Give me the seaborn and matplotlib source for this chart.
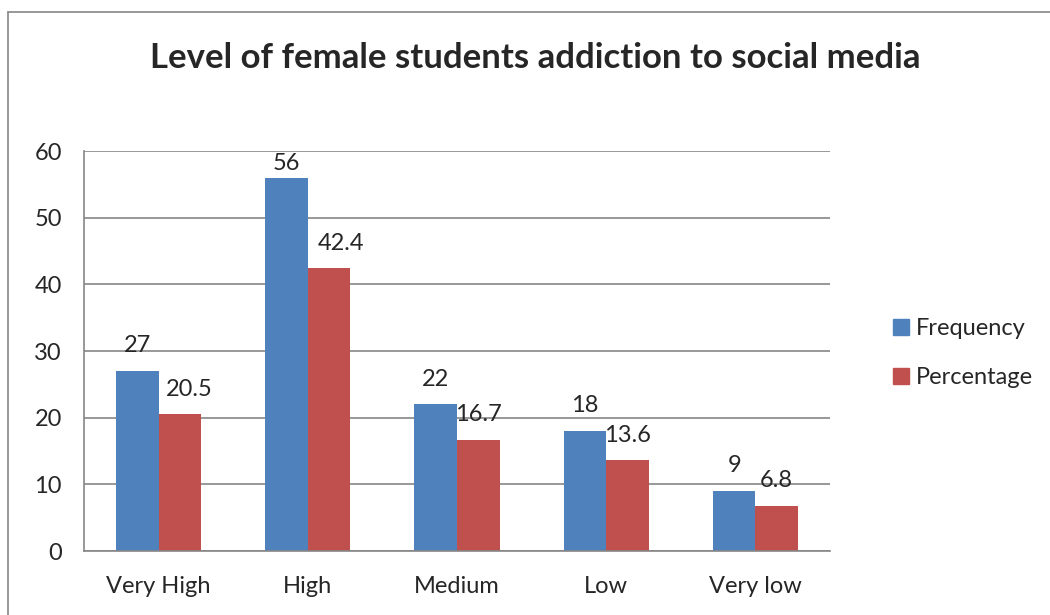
import matplotlib
matplotlib.use("Agg")
import matplotlib.pyplot as plt
import seaborn as sns
import pandas as pd
from matplotlib.lines import Line2D

categories = ["Very High", "High", "Medium", "Low", "Very low"]
frequency = [27, 56, 22, 18, 9]
percentage = [20.5, 42.4, 16.7, 13.6, 6.8]
series_names = ["Frequency", "Percentage"]
y_ticks = [0, 10, 20, 30, 40, 50, 60]

df = pd.DataFrame({
    "Level": categories * 2,
    "Value": frequency + percentage,
    "Series": [series_names[0]] * len(categories) + [series_names[1]] * len(categories),
})

sns.set_style("white")
plt.rcParams["font.family"] = ["Lato", "DejaVu Sans"]

fig = plt.figure(figsize=(10.5, 6.15), dpi=100)
ax = fig.add_axes([84 / 1050, 1 - 551 / 615, (830 - 84) / 1050, 400 / 615])

palette = {"Frequency": "#4F81BD", "Percentage": "#C0504D"}
sns.barplot(data=df, x="Level", y="Value", hue="Series", order=categories,
            hue_order=series_names, palette=palette, width=0.57, gap=0,
            saturation=1, ax=ax, legend=False, linewidth=0)

ax.set_ylim(0, 60)
ax.set_yticks(y_ticks)
ax.set_xlabel("")
ax.set_ylabel("")
ax.yaxis.grid(True, color="#868686", linewidth=1.2)
ax.set_axisbelow(True)
for s in ["top", "right"]:
    ax.spines[s].set_visible(False)
for s in ["left", "bottom"]:
    ax.spines[s].set_color("#868686")
    ax.spines[s].set_linewidth(1.2)
ax.tick_params(axis="y", length=0, pad=16, labelsize=17)
ax.tick_params(axis="x", length=0, pad=18, labelsize=17)

# label placement tweaks (points): (series index, category index) -> (dx, dy)
default_offset = (0, 10.5)
special_offsets = {(0, 1): (0, 2.5), (1, 0): (7, 10.5), (1, 1): (8.5, 10.5)}

labels_sets = [[str(v) for v in frequency], [f"{v:.1f}" for v in percentage]]
for si, (cont, labs) in enumerate(zip(ax.containers, labels_sets)):
    anns = ax.bar_label(cont, labels=labs, padding=0, fontsize=17)
    for ci, ann in enumerate(anns):
        ann.xyann = special_offsets.get((si, ci), default_offset)

fig.text(535 / 1050, 1 - 58 / 615, "Level of female students addiction to social media",
         ha="center", va="center", fontsize=25, fontweight="bold")

handles = [Line2D([], [], marker="s", linestyle="none", markersize=11,
                  markerfacecolor=palette[n], markeredgecolor=palette[n]) for n in series_names]
fig.legend(handles, series_names, loc="center left",
           bbox_to_anchor=(869 / 1050, 1 - 353 / 615), frameon=False,
           fontsize=17, handletextpad=0.2, labelspacing=1.2, handlelength=0.9)

fig.add_artist(Line2D([8 / 1050, 8 / 1050], [0, 1 - 12 / 615], transform=fig.transFigure,
                      color="#868686", linewidth=1.2))
fig.add_artist(Line2D([8 / 1050, 1], [1 - 12 / 615, 1 - 12 / 615], transform=fig.transFigure,
                      color="#868686", linewidth=1.2))

fig.savefig("out.png", dpi=100)
